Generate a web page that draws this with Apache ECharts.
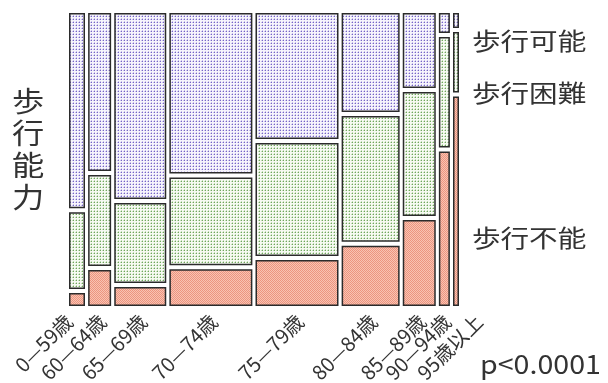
<!DOCTYPE html>
<html>
<head>
<meta charset="utf-8">
<script src="https://cdn.jsdelivr.net/npm/echarts@6/dist/echarts.min.js"></script>
<style>
  html, body { margin: 0; padding: 0; background: #fff; }
  #chart { width: 608px; height: 383px; }
</style>
</head>
<body>
<div id="chart"></div>
<script>
// Age groups (columns) and their relative sizes (column widths)
const ageGroups = ['0—59歳', '60—64歳', '65—69歳', '70—74歳', '75—79歳', '80—84歳', '85—89歳', '90—94歳', '95歳以上'];
const groupSize = [16, 23, 52, 83, 83, 58, 33, 11, 6];

// Walking ability share within each age group (%), bottom to top
const unablePct    = [4.6, 12.6, 6.7, 12.9, 16.1, 21.1, 30.2, 54.2, 73.5];
const difficultPct = [26.9, 31.9, 28.1, 30.8, 39.6, 44.2, 43.5, 38.7, 21.2];
const ablePct      = [68.5, 55.4, 65.3, 56.3, 44.2, 34.7, 26.3, 7.0, 5.3];

const statusNames = ['歩行不能', '歩行困難', '歩行可能'];
const axisTitle = '歩行能力';
const pValueText = 'p<0.0001';

// Layout constants
const GAP_X = 3.125;        // spacing between columns (axis units)
const GAP_Y = 4 / 293;      // spacing between stacked tiles (axis units)
const LABEL_NUDGE = [-11, 0, 0, 0, 0, 0, 0, 0, 20];  // px shift so crowded labels stay apart

const FONT = '"Noto Sans CJK JP", "Noto Sans", sans-serif';

// Small dotted textures used to fill the tiles
function dotPattern(bg, dot, soft) {
  const c = document.createElement('canvas');
  c.width = 3; c.height = 3;
  const g = c.getContext('2d');
  g.fillStyle = bg; g.fillRect(0, 0, 3, 3);
  g.fillStyle = soft; g.fillRect(1, 0, 1, 1); g.fillRect(0, 1, 1, 1);
  g.fillStyle = dot; g.fillRect(1, 1, 1, 1);
  return c;
}
function checkerPattern(a, b) {
  const c = document.createElement('canvas');
  c.width = 2; c.height = 2;
  const g = c.getContext('2d');
  g.fillStyle = a; g.fillRect(0, 0, 2, 2);
  g.fillStyle = b; g.fillRect(0, 0, 1, 1); g.fillRect(1, 1, 1, 1);
  return c;
}
const fills = [
  { image: checkerPattern('#f9c3b2', '#ec9580'), repeat: 'repeat' },
  { image: dotPattern('#f6faf2', '#6fa65e', '#c4dcb8'), repeat: 'repeat' },
  { image: dotPattern('#f6f4fc', '#7565c6', '#c9c1ea'), repeat: 'repeat' }
];

// Build tile rectangles: [x0, x1, y0, y1, statusIndex]
const seriesPct = [unablePct, difficultPct, ablePct];
const tiles = [];
const columns = [];   // [x0, x1, groupIndex]
let xCursor = 0;
groupSize.forEach((w, i) => {
  const x0 = xCursor, x1 = xCursor + w;
  columns.push([x0, x1, i]);
  const total = unablePct[i] + difficultPct[i] + ablePct[i];
  const usable = 1 - GAP_Y * 2;
  let yCursor = 0;
  seriesPct.forEach((arr, s) => {
    const h = arr[i] / total * usable;
    tiles.push([x0, x1, yCursor, yCursor + h, s]);
    yCursor += h + GAP_Y;
  });
  xCursor = x1 + GAP_X;
});
const xMax = xCursor - GAP_X;

// Horizontally widened text block
function wideText(x, y, text, size, sx, extra) {
  return {
    type: 'text', x: x, y: y, scaleX: sx,
    style: Object.assign({ text: text, font: size + 'px ' + FONT, fill: '#333',
      verticalAlign: 'middle' }, extra || {})
  };
}

const chart = echarts.init(document.getElementById('chart'), null, { renderer: 'canvas' });
chart.setOption({
  animation: false,
  backgroundColor: '#ffffff',
  grid: { left: 69, right: 149, top: 13, bottom: 77 },
  xAxis: { type: 'value', min: 0, max: xMax, show: false },
  yAxis: { type: 'value', min: 0, max: 1, show: false },
  series: [
    {
      // mosaic tiles
      type: 'custom',
      data: tiles,
      encode: { x: [0, 1], y: [2, 3] },
      renderItem: function (params, api) {
        const p0 = api.coord([api.value(0), api.value(3)]);
        const p1 = api.coord([api.value(1), api.value(2)]);
        const s = api.value(4);
        const lw = 1.5;
        return {
          type: 'rect',
          shape: {
            x: p0[0] + lw / 2,
            y: p0[1] + lw / 2,
            width: p1[0] - p0[0] - lw,
            height: p1[1] - p0[1] - lw
          },
          style: { fill: fills[s], stroke: '#2b2b2b', lineWidth: lw }
        };
      }
    },
    {
      // slanted age-group labels under each column
      type: 'custom',
      data: columns,
      encode: { x: [0, 1] },
      silent: true,
      renderItem: function (params, api) {
        const idx = api.value(2);
        const cx = (api.value(0) + api.value(1)) / 2;
        const p = api.coord([cx, 0]);
        return {
          type: 'text',
          x: p[0] + 3 + LABEL_NUDGE[idx],
          y: p[1] + 12,
          rotation: Math.PI / 4,
          style: {
            text: ageGroups[idx],
            font: '20px ' + FONT,
            fill: '#333',
            align: 'right',
            verticalAlign: 'middle'
          }
        };
      }
    }
  ],
  graphic: [
    wideText(472, 41, statusNames[2], 24, 1.19),
    wideText(472, 93, statusNames[1], 24, 1.19),
    wideText(472, 238, statusNames[0], 24, 1.19),
    wideText(12, 149, axisTitle.split('').join('\n'), 28, 1.15, { lineHeight: 32 }),
    wideText(480, 364, pValueText, 26, 1.1)
  ]
});
</script>
</body>
</html>
